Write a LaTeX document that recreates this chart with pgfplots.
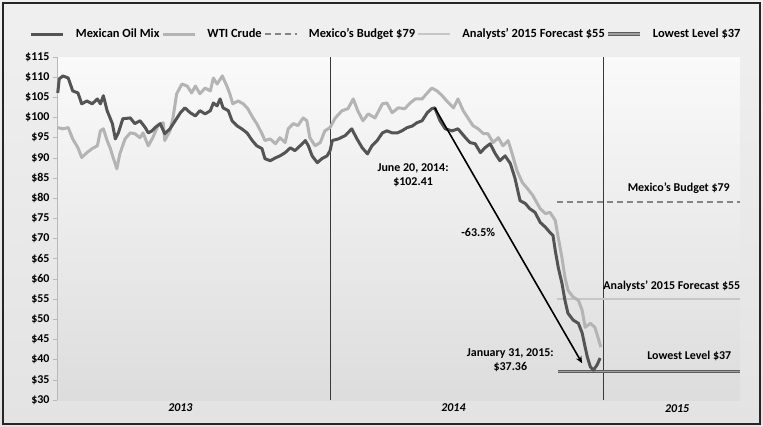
\documentclass[border=0pt]{standalone}
\usepackage{fontspec}
\setmainfont{Carlito}
\usepackage{pgfplots}
\pgfplotsset{compat=1.18}
\usetikzlibrary{arrows.meta}

\definecolor{mexmix}{HTML}{545454}
\definecolor{wti}{HTML}{B4B4B4}
\definecolor{budget}{HTML}{858585}
\definecolor{analyst}{HTML}{C6C6C6}
\definecolor{lowest}{HTML}{5E5E5E}

% x = days since 1 Jan 2013
\begin{document}
\begin{tikzpicture}[font=\fontsize{12}{14}\selectfont\bfseries]
\useasboundingbox (-57bp,-27bp) rectangle (706bp,400bp);
\shade[top color=gray!12, bottom color=gray!22] (-57bp,-27bp) rectangle (706bp,400bp);
\draw[line width=1.6bp, black!85] (-54bp,-24bp) rectangle (703bp,397bp);
\begin{axis}[
  at={(0,0)}, anchor=south west,
  scale only axis, width=683bp, height=343bp,
  xmin=0, xmax=913, ymin=30, ymax=115,
  axis x line=none, axis y line*=left,
  xtick=\empty,
  ytick={30,35,...,115},
  yticklabel={\$\pgfmathprintnumber[assume math mode=true]{\tick}},
  yticklabel style={font=\fontsize{12}{14}\selectfont\bfseries},
  axis line style={gray!55, line width=0.8bp},
  ytick style={gray!55, line width=0.6bp},
  tick align=outside, major tick length=4bp,
  axis background/.style={top color=gray!4, bottom color=gray!27},
  clip=false,
  legend columns=-1,
  legend style={at={(0.482,1.067)}, anchor=center, draw=none, fill=none,
    font=\fontsize{12.5}{14}\selectfont\bfseries,
    /tikz/every odd column/.append style={column sep=9bp}},
  legend image code/.code={\draw[#1] (0bp,0bp) -- (32bp,0bp);},
]
\addlegendimage{mexmix, line width=3bp}
\addlegendentry{Mexican Oil Mix}
\addlegendimage{wti, line width=3bp}
\addlegendentry{WTI Crude}
\addlegendimage{budget, line width=2.2bp, dash pattern=on 6bp off 4bp}
\addlegendentry{Mexico's Budget \$79}
\addlegendimage{analyst, line width=2.2bp}
\addlegendentry{Analysts' 2015 Forecast \$55}
\addlegendimage{draw=lowest, double=gray!75, double distance=1.2bp, line width=1bp}
\addlegendentry{Lowest Level \$37}

% year separators
\addplot[forget plot, gray!45!black, line width=0.8bp] coordinates {(365,30) (365,115)};
\addplot[forget plot, gray!45!black, line width=0.8bp] coordinates {(730,30) (730,115)};

% reference levels
\addplot[forget plot, budget, line width=2.2bp, dash pattern=on 6bp off 4bp] coordinates {(668,79) (913,79)};
\addplot[forget plot, analyst, line width=2.2bp] coordinates {(668,55) (913,55)};
\addplot[forget plot, draw=lowest, double=gray!75, double distance=1.2bp, line width=1bp] coordinates {(670,37) (913,37)};

% WTI Crude
\addplot[forget plot, wti, line width=3bp, line join=round] coordinates {
(1,97.5)(8,97.2)(15,97.5)(21,94.7)(28,92.5)(33,90.1)(40,91.3)(47,92.3)(54,93.0)
(58,96.7)(62,97.2)(67,94.3)(71,92.5)(75,90.1)(80,87.3)(84,91.0)(91,94.7)(98,96.2)
(104,96.0)(111,95.0)(115,96.2)(122,93.0)(128,95.0)(135,98.0)(142,98.7)(144,94.3)
(151,96.7)(155,99.9)(160,105.9)(167,108.3)(174,107.8)(180,106.1)(185,107.8)
(191,105.9)(198,107.3)(205,106.6)(209,109.8)(214,108.3)(221,110.3)(227,107.8)
(231,105.9)(235,103.4)(242,104.1)(249,103.4)(255,102.2)(262,99.9)(267,98.5)
(274,96.0)(278,94.3)(285,94.7)(292,93.5)(298,95.0)(305,93.8)(309,97.2)(316,98.5)
(322,98.0)(329,99.9)(334,99.2)(338,95.0)(345,93.0)(352,93.8)(358,96.7)(365,97.5)
(372,99.9)(381,101.7)(389,102.2)(396,104.6)(402,101.7)(409,99.2)(416,100.9)
(425,99.9)(435,103.4)(441,103.6)(448,101.2)(456,102.4)(465,102.2)(472,103.6)
(479,104.6)(488,104.6)(495,106.1)(501,107.3)(508,106.6)(515,105.4)(521,104.1)
(530,102.4)(536,104.6)(543,101.7)(550,99.7)(556,98.0)(563,97.2)(570,96.0)
(576,96.0)(583,93.8)(590,95.0)(596,93.0)(603,94.3)(608,91.3)(615,86.8)(622,83.9)
(628,82.6)(636,80.7)(646,77.4)(653,76.2)(659,76.5)(666,74.5)(670,70.3)(675,65.3)
(679,60.4)(683,57.2)(690,55.5)(697,54.7)(702,52.2)(706,48.0)(713,49.0)(719,48.0)
(723,45.6)(727,43.1)
};

% Mexican Oil Mix
\addplot[forget plot, mexmix, line width=3bp, line join=round] coordinates {
(1,106.1)(3,109.6)(8,110.3)(15,109.8)(21,106.6)(28,106.1)(33,103.4)(40,104.1)
(47,103.4)(54,104.6)(58,103.4)(62,105.4)(67,101.7)(74,98.5)(78,94.7)(82,96.2)
(88,99.7)(98,99.9)(104,98.5)(111,99.2)(118,97.5)(122,96.2)(127,96.7)(131,97.5)
(138,98.5)(144,96.0)(151,97.2)(158,99.2)(165,101.2)(171,102.4)(178,101.2)
(185,100.4)(191,101.7)(198,100.9)(205,101.7)(209,103.6)(214,102.9)(218,104.6)
(222,102.4)(229,101.7)(234,99.2)(241,97.9)(247,97.2)(254,96.2)(261,94.3)(267,93.0)
(274,92.3)(278,89.8)(285,89.3)(292,90.0)(298,90.5)(305,91.3)(312,92.5)(318,91.8)
(325,93.0)(332,94.3)(336,93.0)(341,90.5)(348,88.8)(354,89.8)(361,90.5)(365,91.8)
(368,94.3)(376,94.7)(385,95.5)(394,97.2)(401,94.7)(408,92.5)(415,91.0)(421,93.0)
(428,94.3)(435,96.2)(441,96.7)(448,96.2)(455,96.2)(461,96.7)(468,97.5)(475,97.9)
(481,98.7)(488,99.2)(495,101.2)(501,102.2)(505,102.4)(512,99.2)(519,97.2)
(528,96.7)(536,97.2)(546,95.0)(552,93.8)(559,93.5)(566,91.3)(572,92.5)(579,93.5)
(586,91.0)(592,89.3)(599,90.5)(606,88.6)(612,85.1)(619,79.4)(626,78.7)(632,77.4)
(639,76.5)(646,74.0)(653,72.8)(659,71.5)(663,70.8)(666,67.1)(670,62.9)(675,58.9)
(679,54.7)(683,51.5)(690,49.8)(697,49.0)(702,46.6)(706,43.1)(709,40.6)(713,38.2)
(717,37.4)(722,38.7)(726,40.4)
};

% decline arrow
\addplot[forget plot, black, line width=1.6bp, -{Stealth[length=7bp,width=6bp]}] coordinates {(505,102.4) (702,39.1)};

% annotations
\node[align=center] at (axis cs:476,85.8) {June 20, 2014:\\\$102.41};
\node at (axis cs:563,71.5) {-63.5\%};
\node[align=center] at (axis cs:606,39.9) {January 31, 2015:\\\$37.36};
\node[anchor=east] at (axis cs:906,40.9) {Lowest Level \$37};
\node[anchor=east] at (axis cs:904,82.4) {Mexico's Budget \$79};
\node[anchor=east] at (axis cs:918,58.2) {Analysts' 2015 Forecast \$55};

% year labels
\node[font=\fontsize{12}{14}\selectfont\bfseries\itshape] at (axis cs:165,28.0) {2013};
\node[font=\fontsize{12}{14}\selectfont\bfseries\itshape] at (axis cs:530,28.0) {2014};
\node[font=\fontsize{12}{14}\selectfont\bfseries\itshape] at (axis cs:829,27.8) {2015};
\end{axis}
\end{tikzpicture}
\end{document}
